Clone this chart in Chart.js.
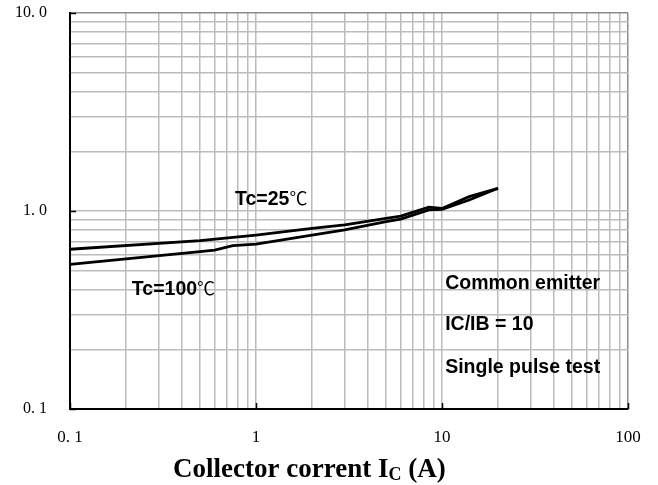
<!DOCTYPE html>
<html>
<head>
<meta charset="utf-8">
<script src="https://cdn.jsdelivr.net/npm/chart.js@4.4.0/dist/chart.umd.min.js"></script>
<style>
  html, body { margin: 0; padding: 0; background: #ffffff; }
  #wrap { width: 658px; height: 485px; position: relative; }
</style>
</head>
<body>
<div id="wrap"><canvas id="c" width="658" height="485"></canvas></div>
<script>
// ---- data ----
const currentTc25 = [0.1, 0.5, 1, 2, 3, 5, 6, 8.5, 10, 14, 20];
const vceTc25     = [0.641, 0.708, 0.756, 0.818, 0.850, 0.919, 0.942, 1.045, 1.030, 1.181, 1.302];
const currentTc100 = [0.1, 0.5, 0.6, 0.75, 1, 2, 3, 5, 6, 8.5, 10, 14, 20];
const vceTc100     = [0.538, 0.623, 0.635, 0.668, 0.681, 0.756, 0.802, 0.883, 0.911, 1.012, 1.020, 1.137, 1.302];

const xMajorTicks = [0.1, 1, 10, 100];
const xTickLabels = ['0. 1', '1', '10', '100'];
const yMajorTicks = [0.1, 1, 10];
const yTickLabels = ['0. 1', '1. 0', '10. 0'];

const seriesLabels = ['Tc=25', 'Tc=100'];
const noteLines = ['Common emitter', 'IC/IB = 10', 'Single pulse test'];
const axisTitleMain = 'Collector corrent I';
const axisTitleSub = 'C';
const axisTitleTail = ' (A)';

function allTicks(majors) {
  const out = [];
  for (let i = 0; i < majors.length; i++) {
    out.push(majors[i]);
    if (i < majors.length - 1) {
      for (let m = 2; m <= 9; m++) out.push(majors[i] * m);
    }
  }
  return out;
}
function labelFor(v, majors, labels) {
  for (let i = 0; i < majors.length; i++) {
    if (Math.abs(v - majors[i]) / majors[i] < 1e-6) return labels[i];
  }
  return '';
}
function gridColor(ctx, max) {
  if (ctx.tick && Math.abs(ctx.tick.value - max) / max < 1e-6) return '#8c8c8c';
  return '#bcbcbc';
}

const overlay = {
  id: 'overlay',
  afterDraw(chart) {
    const ctx = chart.ctx;
    const xs = chart.scales.x, ys = chart.scales.y;
    const area = chart.chartArea;
    ctx.save();
    // major tick marks (inward)
    ctx.strokeStyle = '#000';
    ctx.lineWidth = 1.5;
    yMajorTicks.forEach(v => {
      const py = Math.round(ys.getPixelForValue(v)) + 0.5;
      ctx.beginPath(); ctx.moveTo(area.left, py); ctx.lineTo(area.left + 6, py); ctx.stroke();
    });
    xMajorTicks.forEach(v => {
      const px = Math.round(xs.getPixelForValue(v)) + 0.5;
      ctx.beginPath(); ctx.moveTo(px, area.bottom); ctx.lineTo(px, area.bottom - 6); ctx.stroke();
    });
    // series labels
    ctx.fillStyle = '#000';
    ctx.textBaseline = 'alphabetic';
    ctx.textAlign = 'left';
    const boldSans = 'bold 19.5px "Liberation Sans", Arial, sans-serif';
    const degFont = '18px "Noto Sans CJK SC", sans-serif';
    function tempLabel(text, xv, yv) {
      const px = xs.getPixelForValue(xv);
      const py = ys.getPixelForValue(yv);
      ctx.font = boldSans;
      ctx.fillText(text, px, py);
      const w = ctx.measureText(text).width;
      ctx.font = degFont;
      ctx.fillText('℃', px + w, py);
    }
    tempLabel(seriesLabels[0], 0.771, 1.072);
    tempLabel(seriesLabels[1], 0.215, 0.377);
    // notes
    ctx.font = boldSans;
    const nx = xs.getPixelForValue(10.4);
    const noteY = [0.404, 0.251, 0.152];
    noteLines.forEach((t, i) => ctx.fillText(t, nx, ys.getPixelForValue(noteY[i])));
    // axis title with subscript
    const tx = 173, ty = 477;
    ctx.font = 'bold 27px "Liberation Serif", "Times New Roman", serif';
    ctx.fillText(axisTitleMain, tx, ty);
    let w1 = ctx.measureText(axisTitleMain).width;
    ctx.font = 'bold 18px "Liberation Serif", "Times New Roman", serif';
    ctx.fillText(axisTitleSub, tx + w1, ty + 3);
    let w2 = ctx.measureText(axisTitleSub).width;
    ctx.font = 'bold 27px "Liberation Serif", "Times New Roman", serif';
    ctx.fillText(axisTitleTail, tx + w1 + w2, ty);
    ctx.restore();
  }
};

const bgPlugin = {
  id: 'bg',
  beforeDraw(chart) {
    const c = chart.ctx;
    c.save(); c.fillStyle = '#ffffff'; c.fillRect(0, 0, chart.width, chart.height); c.restore();
  }
};

new Chart(document.getElementById('c'), {
  type: 'line',
  data: {
    datasets: [
      {
        label: seriesLabels[0],
        data: currentTc25.map((x, i) => ({ x: x, y: vceTc25[i] })),
        borderColor: '#000', borderWidth: 2.8, pointRadius: 0,
        tension: 0, fill: false
      },
      {
        label: seriesLabels[1],
        data: currentTc100.map((x, i) => ({ x: x, y: vceTc100[i] })),
        borderColor: '#000', borderWidth: 2.8, pointRadius: 0,
        tension: 0, fill: false
      }
    ]
  },
  options: {
    responsive: false,
    animation: false,
    devicePixelRatio: 1,
    layout: { padding: { top: 13, right: 30, left: 0, bottom: 0 } },
    plugins: { legend: { display: false }, tooltip: { enabled: false }, title: { display: false } },
    scales: {
      x: {
        type: 'logarithmic',
        min: 0.1, max: 100,
        afterBuildTicks: s => { s.ticks = allTicks(xMajorTicks).map(v => ({ value: v })); },
        afterFit: s => { s.height = 76; s.paddingLeft = 0; s.paddingRight = 0; },
        ticks: {
          autoSkip: false, maxRotation: 0, padding: 18,
          color: '#000',
          font: { family: '"Liberation Serif", "Times New Roman", serif', size: 17 },
          callback: v => labelFor(v, xMajorTicks, xTickLabels)
        },
        grid: { color: c => gridColor(c, 100), lineWidth: 1.5, drawTicks: false },
        border: { color: '#000', width: 2 }
      },
      y: {
        type: 'logarithmic',
        min: 0.1, max: 10,
        afterBuildTicks: s => { s.ticks = allTicks(yMajorTicks).map(v => ({ value: v })); },
        afterFit: s => { s.width = 70; s.paddingTop = 0; s.paddingBottom = 0; },
        ticks: {
          autoSkip: false, padding: 23,
          color: '#000',
          font: { family: '"Liberation Serif", "Times New Roman", serif', size: 16 },
          callback: v => labelFor(v, yMajorTicks, yTickLabels)
        },
        grid: { color: c => gridColor(c, 10), lineWidth: 1.5, drawTicks: false },
        border: { color: '#000', width: 2 }
      }
    }
  },
  plugins: [bgPlugin, overlay]
});
</script>
</body>
</html>
